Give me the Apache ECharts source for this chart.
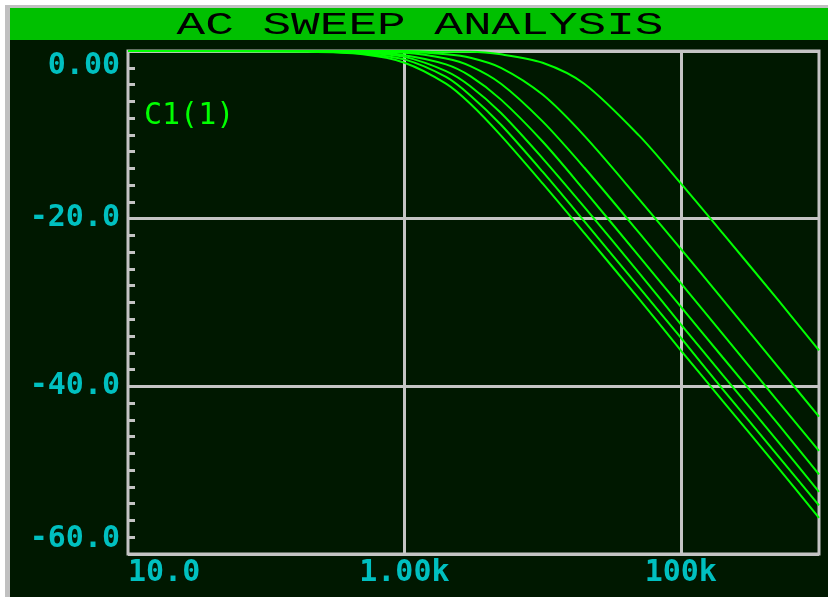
<!DOCTYPE html>
<html>
<head>
<meta charset="UTF-8">
<title>AC Sweep Analysis</title>
<script src="https://cdn.jsdelivr.net/npm/echarts@6/dist/echarts.min.js"></script>
<style>
  html, body { margin: 0; padding: 0; background: #fff; }
  #chart { width: 828px; height: 597px; }
</style>
</head>
<body>
<div id="chart"></div>
<script>
const freq = [10, 200, 500, 1000, 2000, 3000, 5000, 10000, 20000, 50000, 100000, 200000, 500000, 1000000];

// gain in dB, one array per C1 step
const trace1 = [0, 0, 0, 0, -0.1, -0.1, -0.4, -1.4, -3.9, -10.1, -15.8, -21.7, -29.6, -35.7];
const trace2 = [0, 0, 0, -0.1, -0.4, -0.8, -2.0, -5.2, -10.1, -17.7, -23.6, -29.6, -37.6, -43.6];
const trace3 = [0, 0, -0.1, -0.2, -0.9, -1.8, -3.9, -8.4, -13.9, -21.7, -27.7, -33.7, -41.7, -47.7];
const trace4 = [0, 0, -0.1, -0.5, -1.6, -3.0, -5.8, -10.8, -16.6, -24.5, -30.5, -36.5, -44.4, -50.5];
const trace5 = [0, 0, -0.2, -0.7, -2.4, -4.2, -7.4, -12.8, -18.6, -26.5, -32.6, -38.6, -46.5, -52.6];
const trace6 = [0, 0, -0.3, -1.0, -3.1, -5.3, -8.8, -14.4, -20.3, -28.2, -34.2, -40.3, -48.2, -54.2];
const trace7 = [0, -0.1, -0.4, -1.4, -3.9, -6.3, -10.1, -15.8, -21.7, -29.6, -35.7, -41.7, -49.6, -55.7];

const traces = [trace1, trace2, trace3, trace4, trace5, trace6, trace7];

const xTickLabels = { 10: '10.0', 1000: '1.00k', 100000: '100k' };
const yTickLabels = { 0: '0.00', '-20': '-20.0', '-40': '-40.0', '-60': '-60.0' };

const frameColor = '#c4c4c4';
const labelColor = '#00c0c0';
const traceColor = '#00ff00';
const monoFont = '"DejaVu Sans Mono", monospace';

const chart = echarts.init(document.getElementById('chart'));

chart.setOption({
    animation: false,
    backgroundColor: '#ffffff',
    graphic: [
        { type: 'rect', z: -20, shape: { x: 5, y: 5, width: 823, height: 592 }, style: { fill: '#c0c0c0' } },
        { type: 'rect', z: -19, shape: { x: 10, y: 8, width: 818, height: 589 }, style: { fill: '#001800' } },
        { type: 'rect', z: -18, shape: { x: 10, y: 8, width: 818, height: 32 }, style: { fill: '#00c000' } },
        {
            type: 'text', x: 420, y: 26, scaleX: 1.54, z: 10,
            style: {
                text: 'AC SWEEP ANALYSIS', fill: '#000000',
                font: '31px "Liberation Mono", ' + monoFont,
                textAlign: 'center', textVerticalAlign: 'middle',
                align: 'center', verticalAlign: 'middle'
            }
        },
        {
            type: 'text', x: 144, y: 116, z: 10,
            style: {
                text: 'C1(1)', fill: traceColor,
                font: '30px ' + monoFont,
                textAlign: 'left', textVerticalAlign: 'middle',
                align: 'left', verticalAlign: 'middle'
            }
        }
    ],
    grid: {
        left: 128, top: 51, right: 9, bottom: 43,
        show: true,
        backgroundColor: 'transparent',
        borderColor: frameColor,
        borderWidth: 3
    },
    xAxis: {
        type: 'log',
        logBase: 10,
        min: 10,
        max: 1000000,
        axisLine: { show: false },
        axisTick: { show: false },
        axisLabel: {
            color: labelColor,
            fontFamily: monoFont,
            fontWeight: 'bold',
            fontSize: 30,
            margin: 4,
            alignMinLabel: 'left',
            showMaxLabel: false,
            formatter: v => xTickLabels[Math.round(v)] || ''
        },
        splitLine: {
            show: true,
            lineStyle: {
                color: ['rgba(0,0,0,0)', 'rgba(0,0,0,0)', frameColor, 'rgba(0,0,0,0)', frameColor, 'rgba(0,0,0,0)'],
                width: 3
            }
        }
    },
    yAxis: {
        type: 'value',
        min: -60,
        max: 0,
        interval: 20,
        axisLine: { show: false },
        axisTick: { show: true, inside: true, length: 7, lineStyle: { color: frameColor, width: 3 } },
        minorTick: { show: true, splitNumber: 10, length: 7, lineStyle: { color: frameColor, width: 3 } },
        axisLabel: {
            color: labelColor,
            fontFamily: monoFont,
            fontWeight: 'bold',
            fontSize: 30,
            margin: 8,
            verticalAlignMinLabel: 'bottom',
            verticalAlignMaxLabel: 'top',
            formatter: v => yTickLabels[v] || ''
        },
        splitLine: { show: true, lineStyle: { color: frameColor, width: 3 } }
    },
    series: traces.map((t, i) => ({
        name: 'C1(' + (i + 1) + ')',
        type: 'line',
        data: freq.map((f, j) => [f, t[j]]),
        showSymbol: false,
        smooth: 0.3,
        clip: false,
        lineStyle: { color: traceColor, width: 2 },
        z: 5
    }))
});
</script>
</body>
</html>
